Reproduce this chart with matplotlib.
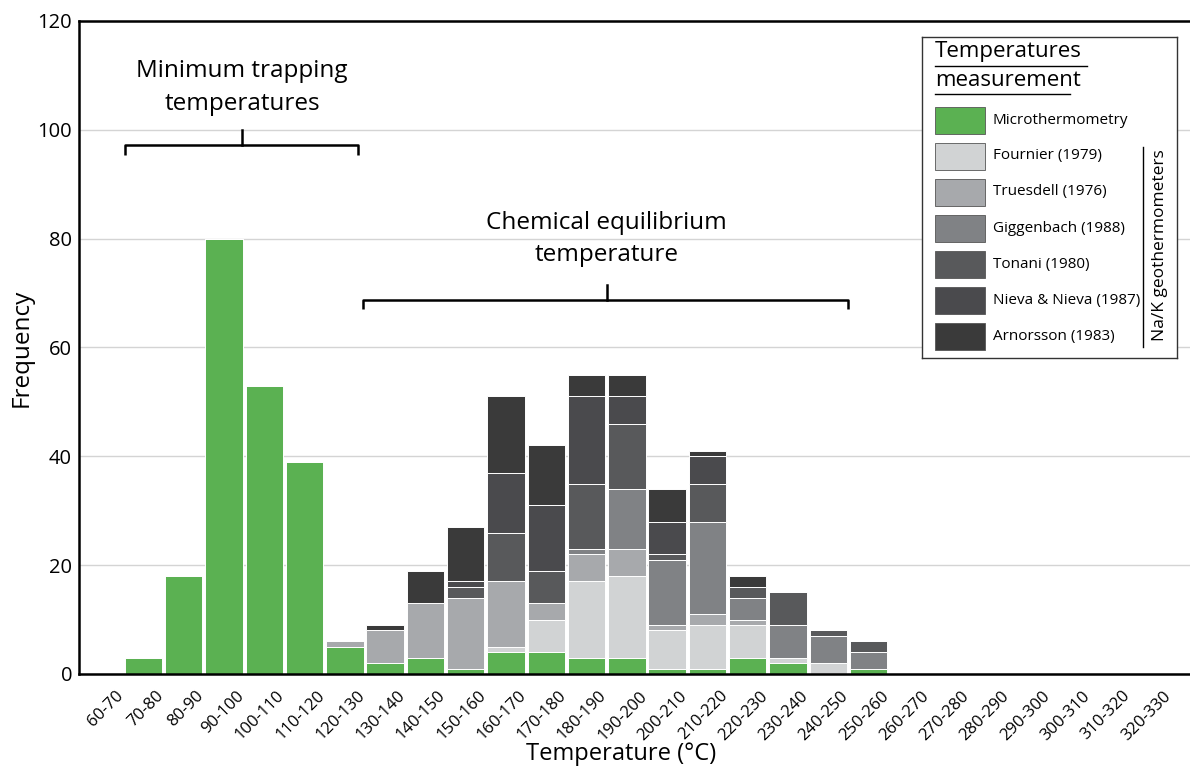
import numpy as np
import matplotlib
matplotlib.use('Agg')
import matplotlib.pyplot as plt
import matplotlib.transforms as mtransforms
from matplotlib.patches import Rectangle

plt.rcParams['font.family'] = ['Open Sans', 'DejaVu Sans']

# Temperature classes (°C)
categories = ['60-70', '70-80', '80-90', '90-100', '100-110', '110-120', '120-130',
              '130-140', '140-150', '150-160', '160-170', '170-180', '180-190',
              '190-200', '200-210', '210-220', '220-230', '230-240', '240-250',
              '250-260', '260-270', '270-280', '280-290', '290-300', '300-310',
              '310-320', '320-330']

# Frequencies per method
micro      = [0, 3, 18, 80, 53, 39, 5, 2, 3, 1, 4, 4, 3, 3, 1, 1, 3, 2, 0, 1, 0, 0, 0, 0, 0, 0, 0]
fournier   = [0, 0, 0, 0, 0, 0, 0, 0, 0, 0, 1, 6, 14, 15, 7, 8, 6, 1, 2, 0, 0, 0, 0, 0, 0, 0, 0]
truesdell  = [0, 0, 0, 0, 0, 0, 1, 6, 10, 13, 12, 3, 5, 5, 1, 2, 1, 0, 0, 0, 0, 0, 0, 0, 0, 0, 0]
giggenbach = [0, 0, 0, 0, 0, 0, 0, 0, 0, 0, 0, 0, 1, 11, 12, 17, 4, 6, 5, 3, 0, 0, 0, 0, 0, 0, 0]
tonani     = [0, 0, 0, 0, 0, 0, 0, 0, 0, 2, 9, 6, 12, 12, 1, 7, 2, 6, 1, 2, 0, 0, 0, 0, 0, 0, 0]
nieva      = [0, 0, 0, 0, 0, 0, 0, 0, 0, 1, 11, 12, 16, 5, 6, 5, 0, 0, 0, 0, 0, 0, 0, 0, 0, 0, 0]
arnorsson  = [0, 0, 0, 0, 0, 0, 0, 1, 6, 10, 14, 11, 4, 4, 6, 1, 2, 0, 0, 0, 0, 0, 0, 0, 0, 0, 0]

series = [
    ('Microthermometry', micro, '#5bb152'),
    ('Fournier (1979)', fournier, '#d1d3d4'),
    ('Truesdell (1976)', truesdell, '#a7a9ac'),
    ('Giggenbach (1988)', giggenbach, '#808285'),
    ('Tonani (1980)', tonani, '#58595b'),
    ('Nieva & Nieva (1987)', nieva, '#4a4a4d'),
    ('Arnorsson (1983)', arnorsson, '#3a3a3a'),
]

fig = plt.figure(figsize=(11.9, 7.74), dpi=100)
ax = fig.add_axes([0.0664, 0.1292, 0.9336, 0.8437])

x = np.arange(len(categories))
bottom = np.zeros(len(categories))
for name, vals, col in series:
    vals = np.array(vals, dtype=float)
    ax.bar(x, vals, width=0.93, bottom=bottom, color=col, edgecolor='white',
           linewidth=0.7, zorder=2)
    bottom += vals

ax.set_xlim(-0.6, 26.98)
ax.set_ylim(0, 120)
ax.set_yticks(np.arange(0, 121, 20))
ax.yaxis.grid(True, color='#d4d4d4', linewidth=1.0, zorder=0)
ax.set_axisbelow(True)
ax.tick_params(axis='both', length=0)
ax.tick_params(axis='y', pad=5, labelsize=14.5)
ax.set_xticks(x)
ax.set_xticklabels(categories, rotation=45, ha='right', rotation_mode='anchor',
                   fontsize=12)
ax.tick_params(axis='x', pad=10)
shift = mtransforms.ScaledTranslation(12 / 100, 0, fig.dpi_scale_trans)
for lab in ax.get_xticklabels():
    lab.set_transform(lab.get_transform() + shift)
for side in ['left', 'bottom', 'top']:
    ax.spines[side].set_linewidth(1.8)
ax.spines['right'].set_visible(False)

ax.set_xlabel('Temperature (°C)', fontsize=17)
ax.xaxis.set_label_coords(0.488, -0.104)
ax.set_ylabel('Frequency', fontsize=17.5)
ax.yaxis.set_label_coords(-0.041, 0.5)

# Annotation brackets
def bracket(x0, x1, xc, y, drop, rise):
    ax.plot([x0, x0, x1, x1], [y - drop, y, y, y - drop], color='black', lw=1.8,
            solid_capstyle='butt', zorder=3, clip_on=False)
    ax.plot([xc, xc], [y, y + rise], color='black', lw=1.8, zorder=3)

bracket(0.54, 6.33, 3.45, 97.2, 1.9, 2.8)
ax.text(3.45, 107.7, 'Minimum trapping\ntemperatures', ha='center', va='center',
        fontsize=17.5, linespacing=1.5)

bracket(6.45, 18.5, 12.5, 68.7, 1.6, 2.8)
ax.text(12.5, 80.0, 'Chemical equilibrium\ntemperature', ha='center', va='center',
        fontsize=17.5, linespacing=1.45)

# Legend box drawn in its own axes (pixel-like coordinates)
lg = fig.add_axes([922 / 1190, 1 - 358 / 774, 255 / 1190, 321 / 774])
lg.set_xlim(0, 255)
lg.set_ylim(321, 0)
lg.set_xticks([])
lg.set_yticks([])
for sp in lg.spines.values():
    sp.set_linewidth(1.0)
    sp.set_color('#333333')

lg.text(13, 15, 'Temperatures', fontsize=16, va='center', ha='left')
lg.text(13, 43, 'measurement', fontsize=16, va='center', ha='left')
lg.plot([13, 165], [29, 29], color='black', lw=1.0)
lg.plot([13, 148], [57, 57], color='black', lw=1.0)

for i, (name, vals, col) in enumerate(series):
    yc = 83 + 36 * i
    lg.add_patch(Rectangle((13, yc - 13.5), 50, 27, facecolor=col,
                           edgecolor='#555555', linewidth=0.6))
    lg.text(71, yc, name, fontsize=11, va='center', ha='left')

lg.plot([221, 221], [110, 310], color='black', lw=1.0)
lg.text(238, 208, 'Na/K geothermometers', rotation=90, fontsize=12.5,
        va='center', ha='center')

plt.savefig('out.png', dpi=100)
